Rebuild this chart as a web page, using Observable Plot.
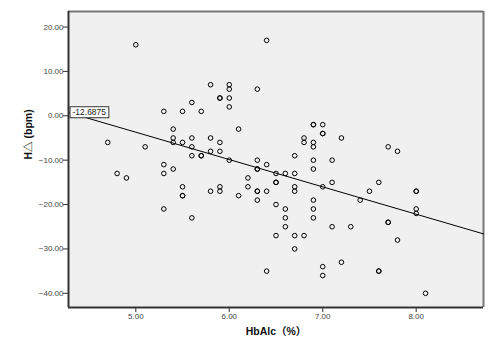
<!DOCTYPE html>
<html><head><meta charset="utf-8">
<script src="https://cdn.jsdelivr.net/npm/d3@7"></script>
<script src="https://cdn.jsdelivr.net/npm/@observablehq/plot@0.6"></script>
<style>body{margin:0;background:#fff}#chart svg{display:block}</style>
</head><body><div id="chart"></div>
<script>
// HbA1c (%) values
const hba1c = [
  5.0, 5.3, 4.7, 5.1, 5.3, 4.8, 4.9, 5.3, 5.3, 6.4,
  5.8, 6.0, 6.0, 6.3, 5.9, 5.9, 6.0, 6.0, 5.6, 5.5,
  5.7, 6.1, 5.4, 5.4, 5.4, 5.5, 5.6, 5.6, 5.6, 5.7,
  5.7, 5.8, 5.9, 5.8, 5.9, 6.0, 5.4, 6.2, 6.3, 6.3,
  6.3, 6.4, 6.5, 6.6, 6.7, 6.7, 6.8, 6.8, 6.9, 6.9,
  6.9, 6.9, 7.0, 7.0, 7.0, 6.9, 6.9, 7.2, 7.7, 7.8,
  7.1, 7.1, 7.6, 5.6, 5.5, 5.5, 5.5, 5.8, 5.9, 5.9,
  6.1, 6.2, 6.3, 6.3, 6.3, 6.4, 6.4, 6.5, 6.5, 6.7,
  6.7, 6.5, 6.6, 6.6, 6.6, 6.5, 6.7, 6.8, 6.7, 6.9,
  6.9, 6.9, 7.0, 7.0, 7.0, 7.5, 7.4, 8.0, 8.0, 8.0,
  8.0, 7.1, 7.3, 7.7, 7.7, 7.8, 7.2, 7.6, 7.6, 8.1
];
// H△ (bpm) values
const deltaHR = [
  16, 1, -6, -7, -11, -13, -14, -13, -21, 17,
  7, 7, 6, 6, 4, 4, 4, 2, 3, 1,
  1, -3, -3, -5, -6, -6, -5, -7, -9, -9,
  -9, -5, -6, -8, -8, -10, -12, -14, -10, -12,
  -12, -11, -13, -13, -13, -9, -5, -6, -6, -7,
  -2, -2, -2, -4, -4, -10, -12, -5, -7, -8,
  -10, -15, -15, -23, -16, -18, -18, -17, -16, -17,
  -18, -16, -17, -17, -19, -17, -35, -15, -15, -16,
  -17, -20, -21, -23, -25, -27, -27, -27, -30, -19,
  -21, -23, -16, -34, -36, -17, -19, -17, -17, -21,
  -22, -25, -25, -24, -24, -28, -33, -35, -35, -40
];
const xTicks = [5, 6, 7, 8];
const yTicks = [20, 10, 0, -10, -20, -30, -40];
const xDomain = [4.28, 8.72];
const yDomain = [-43.2, 23.5];
const fitIntercept = 27.1;
const fitSlope = -6.16;
const fitLabel = "-12.6875";
const xLabel = "HbAlc（%）";
const yLabel = "H△ (bpm)";

const points = hba1c.map((x, i) => ({x, y: deltaHR[i]}));
const fitLine = xDomain.map(x => ({x, y: fitIntercept + fitSlope * x}));
const fmt = d3.format(".2f");
const font = "'Liberation Sans', Arial, 'Noto Sans CJK SC', sans-serif";

const chart = Plot.plot({
  width: 495,
  height: 357,
  marginLeft: 68,
  marginRight: 12,
  marginTop: 11,
  marginBottom: 50,
  style: {fontFamily: font, background: "#fff"},
  x: {domain: xDomain},
  y: {domain: yDomain},
  marks: [
    Plot.frame({fill: "#f0f0f0", stroke: null}),
    Plot.ruleY([yDomain[1]], {stroke: "#777", strokeWidth: 2}),
    Plot.ruleX([xDomain[1]], {stroke: "#777", strokeWidth: 2}),
    Plot.line(fitLine, {x: "x", y: "y", stroke: "#000", strokeWidth: 1}),
    Plot.dot(points, {x: "x", y: "y", r: 2.3, stroke: "#000", strokeWidth: 1, fill: "none"}),
    Plot.ruleX([xDomain[0]], {stroke: "#333", strokeWidth: 2}),
    Plot.ruleY([yDomain[0]], {stroke: "#333", strokeWidth: 2}),
    Plot.axisY({ticks: yTicks, tickFormat: fmt, tickSize: 5, tickPadding: 0, label: null, fontSize: 8, color: "#444", stroke: "#333"}),
    Plot.axisX({ticks: xTicks, tickFormat: fmt, tickSize: 5, tickPadding: 1, label: null, fontSize: 8, color: "#444", stroke: "#333"}),
    Plot.text([fitLine[0]], {x: "x", y: "y", text: () => fitLabel, textAnchor: "start", dx: 4, fontSize: 8.5, fill: "#222", className: "fitlabel"}),
    Plot.text([yLabel], {frameAnchor: "left", rotate: -90, dx: -40, fontSize: 10.5, fontWeight: "bold", fill: "#111"}),
    Plot.text([xLabel], {frameAnchor: "bottom", dy: 27, fontSize: 10.5, fontWeight: "bold", fill: "#111"})
  ]
});
document.getElementById("chart").appendChild(chart);

// white box with border behind the fit label
const lab = chart.querySelector(".fitlabel text");
if (lab) {
  const b = lab.getBBox();
  const g = lab.parentNode;
  const rect = document.createElementNS("http://www.w3.org/2000/svg", "rect");
  rect.setAttribute("x", b.x - 2.5);
  rect.setAttribute("y", b.y - 0.5);
  rect.setAttribute("width", b.width + 5);
  rect.setAttribute("height", b.height + 1);
  rect.setAttribute("fill", "#fff");
  rect.setAttribute("stroke", "#333");
  rect.setAttribute("stroke-width", 1);
  const tr = lab.getAttribute("transform");
  if (tr) rect.setAttribute("transform", tr);
  g.insertBefore(rect, lab);
}
</script>
</body></html>
